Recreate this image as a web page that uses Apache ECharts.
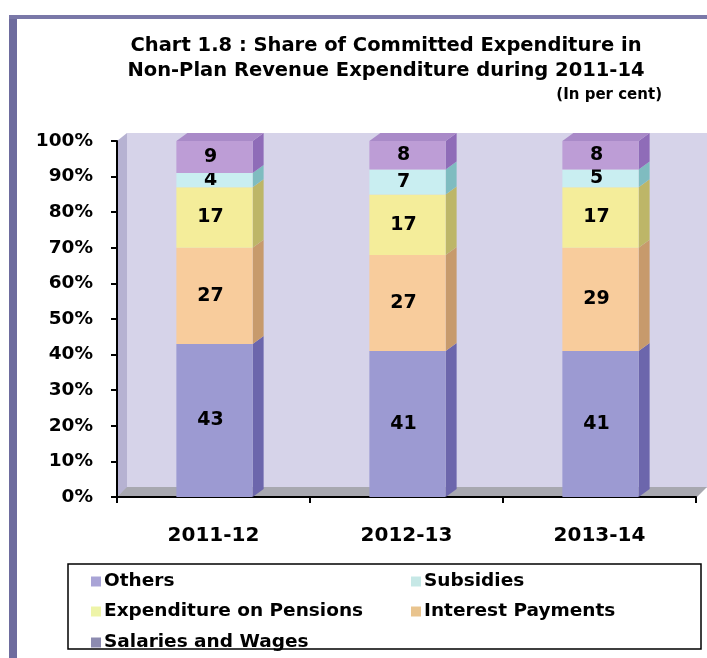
<!DOCTYPE html>
<html>
<head>
<meta charset="utf-8">
<script src="https://cdn.jsdelivr.net/npm/echarts@6/dist/echarts.min.js"></script>
<style>
html,body{margin:0;padding:0;background:#fff;}
#c{width:707px;height:658px;}
</style>
</head>
<body>
<div id="c"></div>
<script>
const categories = ['2011-12', '2012-13', '2013-14'];
const salaries = [43, 41, 41];
const interest = [27, 27, 29];
const pensions = [17, 17, 17];
const subsidies = [4, 7, 5];
const others = [9, 8, 8];
const yTicks = [0, 10, 20, 30, 40, 50, 60, 70, 80, 90, 100];

const FONT = '"DejaVu Sans", "Liberation Sans", Arial, sans-serif';

const seriesDefs = [
  {name: 'Salaries and Wages', data: salaries, front: '#9c9ad2', side: '#6c66ac', top: '#8a86c4', legend: '#8c8bb0'},
  {name: 'Interest Payments', data: interest, front: '#f8cc9c', side: '#c79a6c', top: '#eab888', legend: '#e9c48e'},
  {name: 'Expenditure on Pensions', data: pensions, front: '#f4ed9a', side: '#bdb668', top: '#e6de88', legend: '#eef4a8'},
  {name: 'Subsidies', data: subsidies, front: '#c9eef1', side: '#7fbcc0', top: '#b0dde0', legend: '#c6e8e6'},
  {name: 'Others', data: others, front: '#bd9dd6', side: '#8f6cb8', top: '#a98ac8', legend: '#a9a4d6'}
];

const bases = categories.map(() => 0);
const series = seriesDefs.map((s, si) => {
  const rows = s.data.map((v, ci) => {
    const r = [ci, bases[ci], v];
    bases[ci] += v;
    return r;
  });
  const isTop = si === seriesDefs.length - 1;
  return {
    type: 'custom',
    name: s.name,
    itemStyle: {color: s.front},
    z: 3 + si,
    data: rows,
    renderItem: function (params, api) {
      const ci = api.value(0), base = api.value(1), val = api.value(2);
      const p0 = api.coord([ci, base]);
      const p1 = api.coord([ci, base + val]);
      const band = api.size([1, 0])[0];
      const w = band * 0.395;
      const x0 = p0[0] - w / 2 + 1;
      const dx = 11, dy = -8;
      const yb = p0[1], yt = p1[1];
      const children = [
        {type: 'polygon', shape: {points: [[x0 + w, yt], [x0 + w + dx, yt + dy], [x0 + w + dx, yb + dy], [x0 + w, yb]]}, style: {fill: s.side}},
        {type: 'rect', shape: {x: x0, y: yt, width: w, height: yb - yt}, style: {fill: s.front}},
        {type: 'text', style: {text: String(val), x: x0 + w / 2 - 4, y: (yt + yb) / 2, align: 'center', verticalAlign: 'middle', font: 'bold 19px ' + FONT, fill: '#000'}}
      ];
      if (isTop) {
        children.push({type: 'polygon', shape: {points: [[x0, yt], [x0 + dx, yt + dy], [x0 + w + dx, yt + dy], [x0 + w, yt]]}, style: {fill: s.top}});
      }
      return {type: 'group', children: children};
    }
  };
});

const legendPos = [
  {name: 'Others', left: 86, top: 567},
  {name: 'Subsidies', left: 406, top: 567},
  {name: 'Expenditure on Pensions', left: 86, top: 597},
  {name: 'Interest Payments', left: 406, top: 597},
  {name: 'Salaries and Wages', left: 86, top: 628}
];
const legends = legendPos.map(l => {
  const def = seriesDefs.find(s => s.name === l.name);
  return {
    left: l.left, top: l.top,
    itemWidth: 10, itemHeight: 10, itemGap: 0,
    icon: 'rect',
    selectedMode: false,
    textStyle: {fontFamily: FONT, fontSize: 18.5, fontWeight: 'bold', color: '#000', padding: [0, 0, 0, -2]},
    data: [{name: l.name, itemStyle: {color: def.legend}}]
  };
});

const chart = echarts.init(document.getElementById('c'), null, {renderer: 'canvas'});
chart.setOption({
  animation: false,
  backgroundColor: '#ffffff',
  title: [
    {text: 'Chart 1.8 : Share of Committed Expenditure in\nNon-Plan Revenue Expenditure during 2011-14', left: 381, top: 28, textAlign: 'center',
     textStyle: {fontFamily: FONT, fontSize: 19.5, fontWeight: 'bold', color: '#000', lineHeight: 25}},
    {text: '(In per cent)', right: 40, top: 83,
     textStyle: {fontFamily: FONT, fontSize: 15, fontWeight: 'bold', color: '#000'}}
  ],
  graphic: [
    {type: 'rect', z: 0, shape: {x: 9, y: 17, width: 8, height: 641}, style: {fill: '#6e6c9e'}},
    {type: 'rect', z: 0, shape: {x: 9, y: 15, width: 698, height: 4}, style: {fill: '#7a78a8'}},
    {type: 'rect', z: 0, shape: {x: 127, y: 133, width: 580, height: 355}, style: {fill: '#d6d3e9'}},
    {type: 'polygon', z: 0, shape: {points: [[117, 141], [127, 133], [127, 488], [117, 497]]}, style: {fill: '#b6b2d2'}},
    {type: 'polygon', z: 0, shape: {points: [[117, 497], [127, 487], [707, 487], [697, 497]]}, style: {fill: '#a8a8b0'}},
    {type: 'rect', z: 0, shape: {x: 68, y: 564, width: 633, height: 85}, style: {fill: 'none', stroke: '#000', lineWidth: 1.5}}
  ],
  legend: legends,
  grid: {left: 117, right: 11, top: 141, bottom: 161, containLabel: false},
  xAxis: {
    type: 'category',
    data: categories,
    axisLine: {lineStyle: {color: '#000', width: 2}},
    axisTick: {show: true, length: 6, lineStyle: {color: '#000', width: 2}},
    axisLabel: {margin: 29, fontFamily: FONT, fontSize: 20, fontWeight: 'bold', color: '#000'}
  },
  yAxis: {
    type: 'value',
    min: 0, max: 100, interval: 10,
    axisLine: {show: true, lineStyle: {color: '#000', width: 2}},
    axisTick: {show: true, length: 6, lineStyle: {color: '#000', width: 2}},
    splitLine: {show: false},
    axisLabel: {
      margin: 24,
      fontFamily: FONT, fontSize: 18.5, fontWeight: 'bold', color: '#000',
      formatter: v => (yTicks.indexOf(v) >= 0 ? v + '%' : '')
    }
  },
  series: series
});
</script>
</body>
</html>
